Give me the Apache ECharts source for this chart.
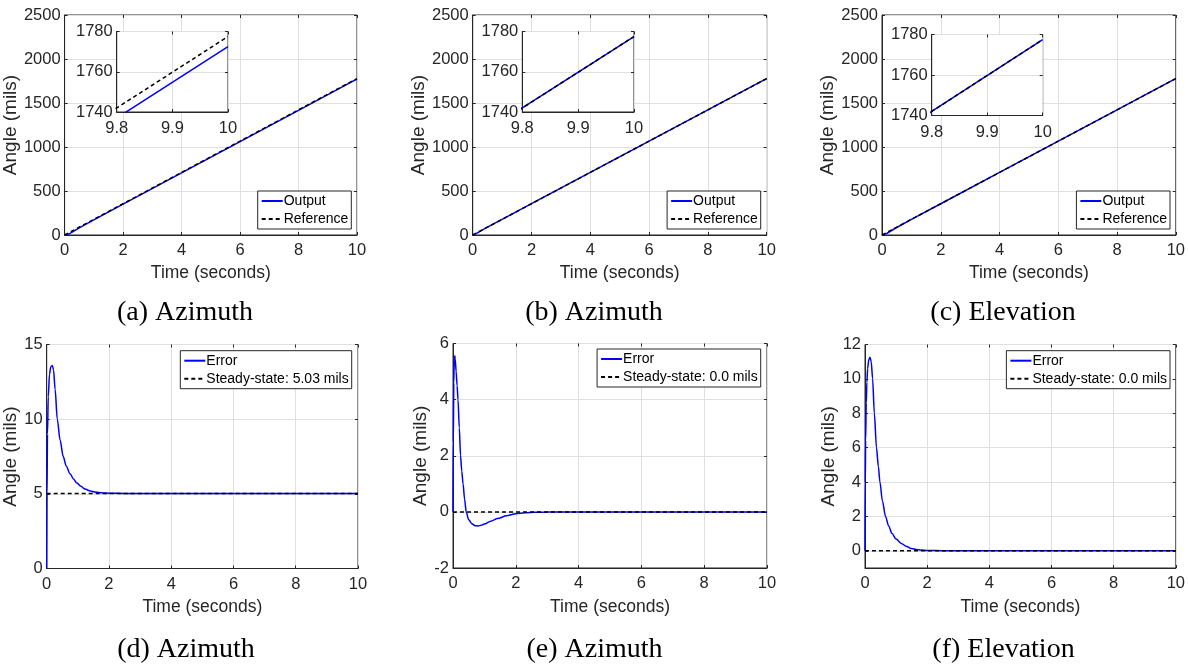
<!DOCTYPE html>
<html><head><meta charset="utf-8">
<script src="https://cdn.jsdelivr.net/npm/echarts@6/dist/echarts.min.js"></script>
<style>html,body{margin:0;padding:0;background:#fff}#c{width:1188px;height:664px}</style>
</head><body><div id="c"></div>
<script>
// ---------- data ----------
// top row: reference ramp and outputs (mils vs seconds)
const refT  = [0, 2, 4, 6, 8, 9.8, 10];
const refV  = [0, 355.5, 711, 1066.5, 1422, 1742, 1777.5];
const outAT = [0, 0.1, 0.2, 0.5, 1, 2, 4, 6, 8, 9.8, 10];
const outAV = [0, 4.8, 21.9, 80.7, 172, 350.5, 706, 1061.5, 1417, 1737, 1772.5];
const outBT = [0, 0.05, 0.1, 0.5, 1, 2, 4, 6, 8, 9.8, 10];
const outBV = [0, 3.4, 12.8, 89.2, 178.2, 355.6, 711, 1066.5, 1422, 1742, 1777.5];
const outCT = [0, 0.16, 0.3, 0.5, 1, 2, 4, 6, 8, 9.8, 10];
const outCV = [0, 17.1, 45.3, 85.1, 177.1, 355.5, 711, 1066.5, 1422, 1742, 1777.5];
// bottom row: tracking errors
const errDT = [0, 0.01, 0.025, 0.05, 0.09, 0.13, 0.18, 0.22, 0.27, 0.34, 0.43, 0.53, 0.63, 0.75, 0.86, 0.96, 1.1, 1.23, 1.4, 1.55, 1.8, 2.0, 2.5, 4, 6, 8, 10];
const errDV = [0, 5, 9, 11.5, 13.0, 13.5, 13.6, 13.3, 12.0, 10.0, 8.6, 7.5, 6.85, 6.35, 6.0, 5.75, 5.5, 5.32, 5.19, 5.12, 5.06, 5.04, 5.03, 5.03, 5.03, 5.03, 5.03];
const errET = [0, 0.01, 0.025, 0.04, 0.055, 0.07, 0.1, 0.13, 0.16, 0.2, 0.24, 0.28, 0.32, 0.37, 0.42, 0.5, 0.6, 0.7, 0.8, 0.9, 1.0, 1.2, 1.42, 1.7, 2.0, 2.3, 2.6, 3.0, 4, 10];
const errEV = [0, 2.5, 4.6, 5.4, 5.56, 5.45, 5.0, 4.5, 4.0, 3.0, 2.0, 1.45, 1.0, 0.45, 0.0, -0.28, -0.42, -0.49, -0.5, -0.48, -0.43, -0.33, -0.24, -0.14, -0.07, -0.035, -0.015, -0.005, 0, 0];
const errFT = [0, 0.01, 0.02, 0.04, 0.06, 0.085, 0.12, 0.16, 0.2, 0.245, 0.3, 0.37, 0.43, 0.48, 0.56, 0.66, 0.76, 0.87, 1.0, 1.17, 1.32, 1.49, 1.65, 1.81, 2.0, 2.5, 3, 10];
const errFV = [0, 4.0, 6.4, 8.6, 9.8, 10.6, 11.1, 11.26, 11.0, 10.0, 8.0, 6.0, 4.9, 4.0, 2.9, 2.0, 1.45, 1.0, 0.68, 0.43, 0.27, 0.14, 0.08, 0.04, 0.02, 0.005, 0, 0];
// steady-state lines
const ssT = [0, 10];
const ssD = [5.03, 5.03];
const ssE = [0, 0];
const ssF = [0, 0];
// tick labels of panel (f)
const fTicks = [0, 2, 4, 6, 8, 10, 12];
// texts
const captions = ['(a) Azimuth', '(b) Azimuth', '(c) Elevation', '(d) Azimuth', '(e) Azimuth', '(f) Elevation'];
const ssNames = ['Steady-state: 5.03 mils', 'Steady-state: 0.0 mils', 'Steady-state: 0.0 mils'];

// ---------- building ----------
const zip = (t, v) => t.map((x, i) => [x, v[i]]);
const FONT = 'Liberation Sans';
const TXT = '#262626';
const GRIDC = '#dfdfdf';
const grids = [], xAxes = [], yAxes = [], series = [], legends = [];
const fmt = v => String(+v.toFixed(6));

function addPanel(p) {
  const g = grids.length;
  const z = p.z || 0;
  grids.push({left: p.rect[0], top: p.rect[1], width: p.rect[2], height: p.rect[3],
    show: true, borderColor: TXT, borderWidth: 1, backgroundColor: '#fff', z: z});
  const lbl = {color: TXT, fontSize: 16.5, fontFamily: FONT, formatter: fmt};
  const xa = {gridIndex: g, type: 'value', min: p.x[0], max: p.x[1], interval: p.x[2], position: 'bottom', z: z,
    axisLine: {show: true, onZero: false, lineStyle: {color: TXT, width: 1}},
    axisTick: {show: true, inside: true, length: 3, lineStyle: {color: TXT}},
    axisLabel: Object.assign({margin: p.xMargin || 7}, lbl),
    splitLine: {show: true, lineStyle: {color: GRIDC, width: 1}}};
  if (p.xName) { xa.name = p.xName; xa.nameLocation = 'middle'; xa.nameGap = p.xNameGap;
    xa.nameTextStyle = {color: TXT, fontSize: 17.5, fontFamily: FONT}; }
  const ya = {gridIndex: g, type: 'value', min: p.y[0], max: p.y[1], position: 'left', z: z,
    axisLine: {show: true, onZero: false, lineStyle: {color: TXT, width: 1}},
    axisTick: {show: true, inside: true, length: 3, lineStyle: {color: TXT}},
    axisLabel: Object.assign({margin: 4}, lbl),
    splitLine: {show: true, lineStyle: {color: GRIDC, width: 1}}};
  if (p.yTicks) { ya.axisLabel.customValues = p.yTicks; ya.axisTick.customValues = p.yTicks; }
  else ya.interval = p.y[2];
  if (p.yName) { ya.name = p.yName; ya.nameLocation = 'middle'; ya.nameGap = p.yNameGap;
    ya.nameTextStyle = {color: TXT, fontSize: 19, fontFamily: FONT}; }
  const xm = {gridIndex: g, type: 'value', min: p.x[0], max: p.x[1], interval: p.x[2], position: 'top', z: z,
    axisLine: {show: false, onZero: false}, axisTick: {show: true, inside: true, length: 3, lineStyle: {color: TXT}},
    axisLabel: {show: false}, splitLine: {show: false}};
  const ym = {gridIndex: g, type: 'value', min: p.y[0], max: p.y[1], position: 'right', z: z,
    axisLine: {show: false, onZero: false}, axisTick: {show: true, inside: true, length: 3, lineStyle: {color: TXT}},
    axisLabel: {show: false}, splitLine: {show: false}};
  if (p.yTicks) ym.axisTick.customValues = p.yTicks; else ym.interval = p.y[2];
  const xi = xAxes.length, yi = yAxes.length;
  xAxes.push(xa, xm); yAxes.push(ya, ym);
  p.lines.forEach(l => {
    series.push({type: 'line', name: l.name, xAxisIndex: xi, yAxisIndex: yi, data: l.data,
      symbol: 'none', showSymbol: false, clip: true, smooth: l.smooth || false, smoothMonotone: 'x',
      z: z + 2, silent: true,
      lineStyle: {color: l.color, width: 1.5, type: l.dash ? [4, 3] : 'solid'},
      itemStyle: {color: l.color}});
  });
  if (p.legend) {
    legends.push({orient: 'vertical', right: p.legend[0], top: p.legend[1], data: p.lines.map(l => l.name),
      itemWidth: 21, itemHeight: 14, itemGap: 4, padding: [3, 3, 3, 3], selectedMode: false,
      borderColor: TXT, borderWidth: 1, backgroundColor: '#fff', z: 10,
      itemStyle: {color: 'rgba(0,0,0,0)', borderWidth: 0, opacity: 0},
      textStyle: {fontSize: 14, fontFamily: FONT, color: '#000', padding: [0, 0, 0, -4]}});
  }
}

const BLUE = '#0000ff', BLACK = '#000000';
const topRects = [[63, 15, 294, 220], [472.7, 15, 294, 220], [882, 15, 294, 220]];
const insetRects = [[116.7, 31.5, 111.3, 80.5], [522.3, 31.5, 111.7, 80.5], [931.7, 34.5, 111, 81]];
const outs = [zip(outAT, outAV), zip(outBT, outBV), zip(outCT, outCV)];
const yGapsTop = [40.5, 41.5, 42.5];
const legRightTop = [836.7, 427.3, 18];
for (let i = 0; i < 3; i++) {
  addPanel({rect: topRects[i], x: [0, 10, 2], y: [0, 2500, 500], xName: 'Time (seconds)', xNameGap: 29,
    yName: 'Angle (mils)', yNameGap: yGapsTop[i], legend: [legRightTop[i], 191],
    lines: [{name: 'Output', data: outs[i], color: BLUE}, {name: 'Reference', data: zip(refT, refV), color: BLACK, dash: true}]});
}
for (let i = 0; i < 3; i++) {
  addPanel({rect: insetRects[i], x: [9.8, 10, 0.1], y: [1740, 1780, 20], z: 5, xMargin: 8,
    lines: [{name: 'Output', data: outs[i], color: BLUE}, {name: 'Reference', data: zip(refT, refV), color: BLACK, dash: true}]});
}
const botRects = [[46.7, 344.5, 311.3, 224], [453, 343.5, 314, 224.5], [865, 344.5, 311, 223.5]];
const errs = [zip(errDT, errDV), zip(errET, errEV), zip(errFT, errFV)];
const sss = [zip(ssT, ssD), zip(ssT, ssE), zip(ssT, ssF)];
const yRanges = [[0, 15, 5], [-2, 6, 2], [-1, 12, 2]];
const yGapsBot = [25.5, 22, 25];
const legBot = [[836.3, 350.7], [427.3, 349], [18, 350.7]];
for (let i = 0; i < 3; i++) {
  addPanel({rect: botRects[i], x: [0, 10, 2], y: yRanges[i], yTicks: i === 2 ? fTicks : null,
    xName: 'Time (seconds)', xNameGap: 30, yName: 'Angle (mils)', yNameGap: yGapsBot[i], legend: legBot[i],
    lines: [{name: 'Error', data: errs[i], color: BLUE, smooth: 0.3}, {name: ssNames[i], data: sss[i], color: BLACK, dash: true}]});
}

const capPos = [[185, 312.5], [594, 312.5], [1003, 312.5], [186, 650], [594.5, 650], [1003.5, 650]];
const graphic = captions.map((t, i) => ({type: 'text', x: capPos[i][0], y: capPos[i][1], z: 20,
  style: {text: t, fill: '#000', font: '28px "Liberation Serif"', align: 'center', verticalAlign: 'middle',
    textAlign: 'center', textVerticalAlign: 'middle'}}));

const chart = echarts.init(document.getElementById('c'), null, {renderer: 'canvas'});
chart.setOption({animation: false, backgroundColor: '#fff', grid: grids, xAxis: xAxes, yAxis: yAxes,
  series: series, legend: legends, graphic: graphic});
</script></body></html>
